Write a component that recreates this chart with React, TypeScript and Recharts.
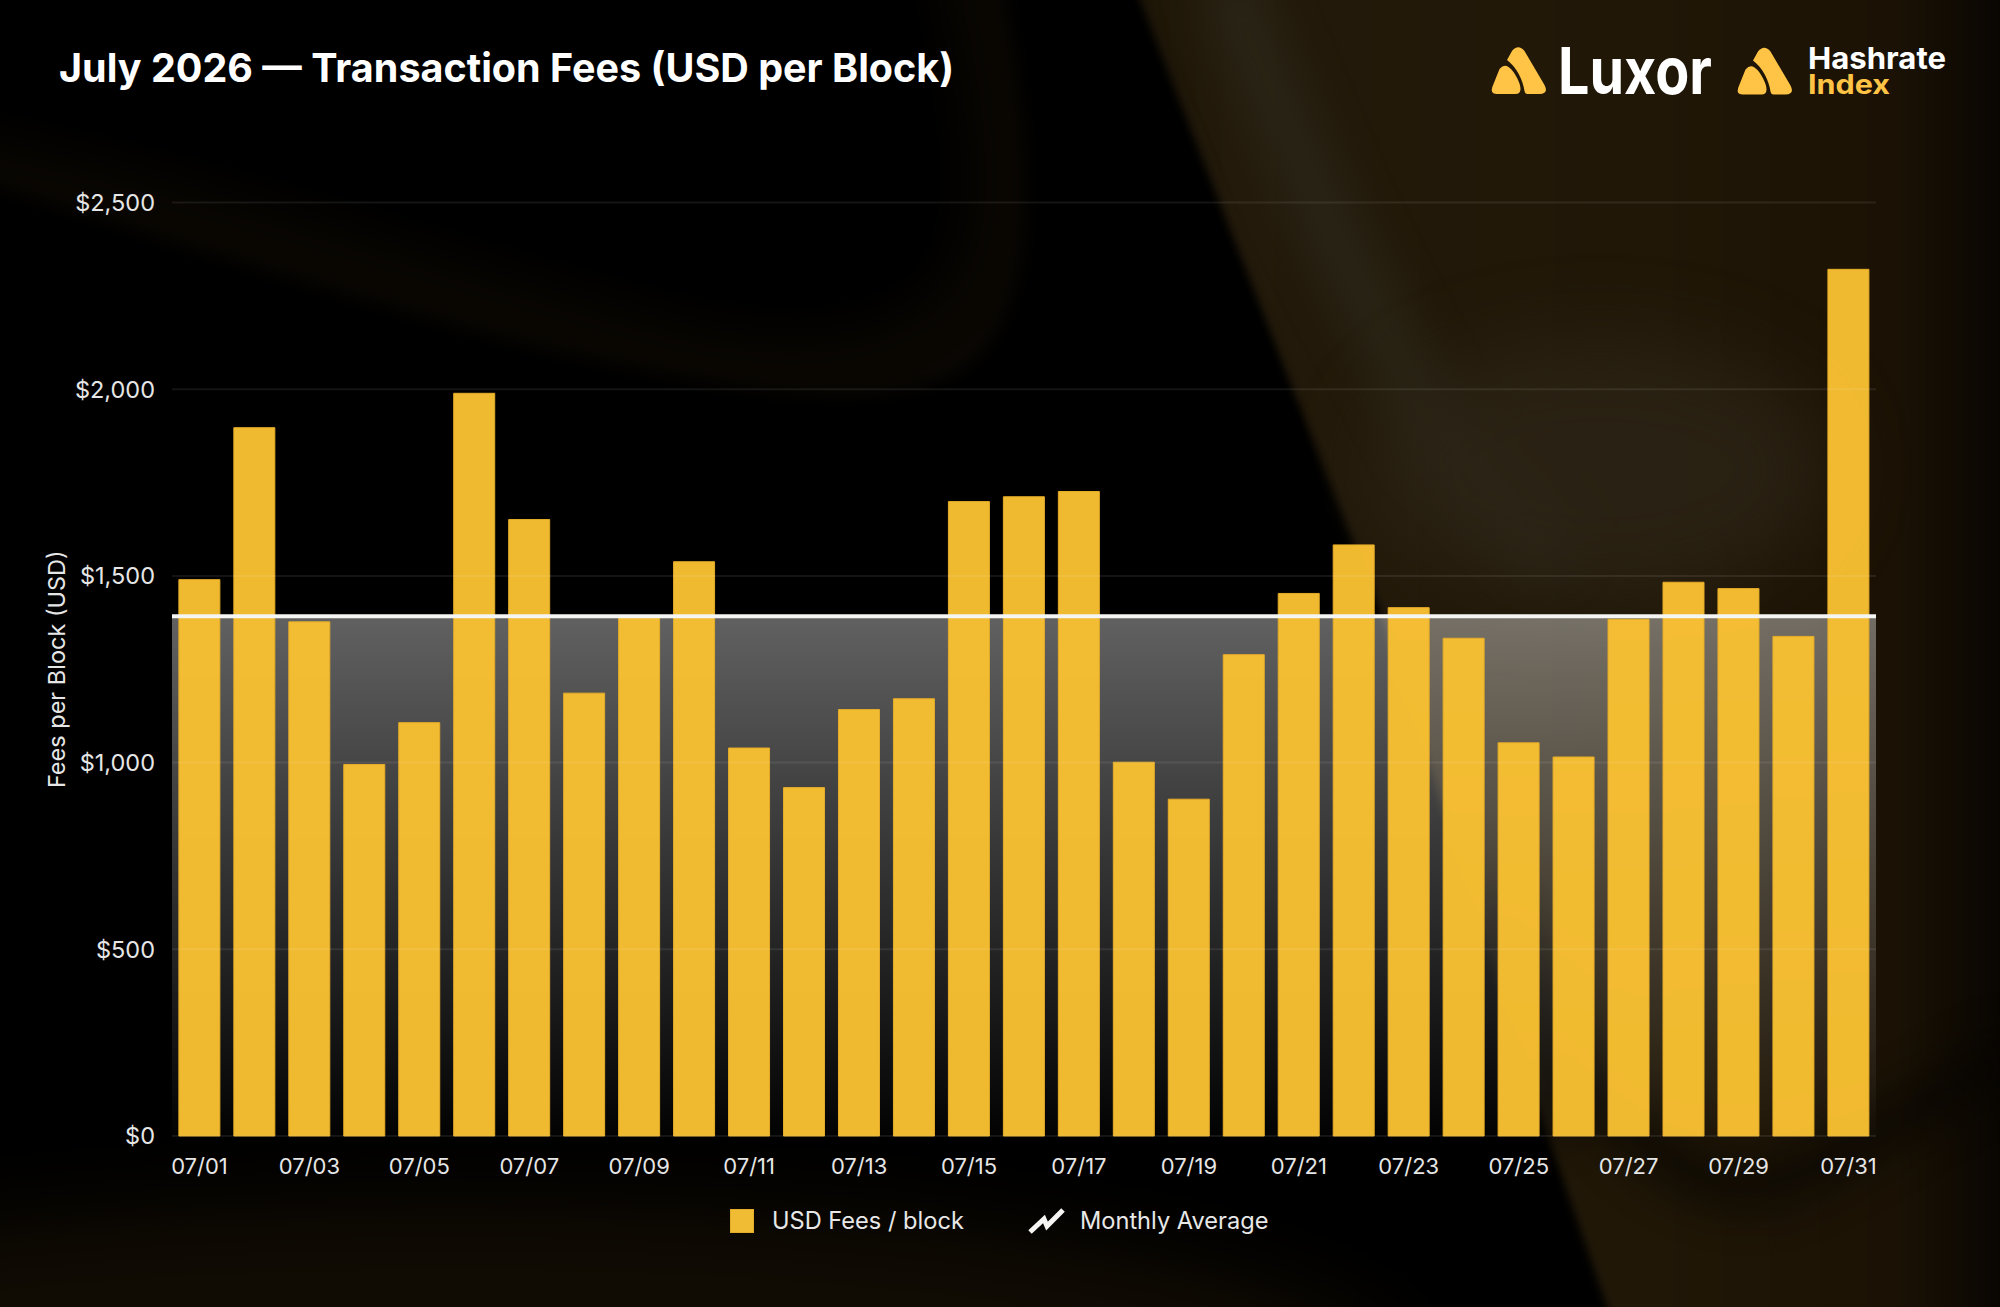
import React from 'react';
import { ComposedChart, Bar, XAxis, YAxis, CartesianGrid, ReferenceLine, ReferenceArea, Legend } from 'recharts';

const days = ['07/01','07/02','07/03','07/04','07/05','07/06','07/07','07/08','07/09','07/10','07/11','07/12','07/13','07/14','07/15','07/16','07/17','07/18','07/19','07/20','07/21','07/22','07/23','07/24','07/25','07/26','07/27','07/28','07/29','07/30','07/31'];
const fees = [1490,1897,1377,995,1107,1989,1651,1186,1388,1538,1039,933,1142,1171,1699,1712,1726,1001,902,1289,1453,1583,1415,1333,1053,1015,1384,1483,1466,1338,2321];
const monthlyAverage = 1392;
const yTicks = [0,500,1000,1500,2000,2500];
const title = 'July 2026 — Transaction Fees (USD per Block)';
const yLabel = 'Fees per Block (USD)';
const barName = 'USD Fees / block';
const lineName = 'Monthly Average';

const data = days.map((day, i) => ({ day, fee: fees[i] }));
const FONT = 'Inter, sans-serif';
const GOLD = '#FFC445';

function Icon({ x, y }: { x: number; y: number }) {
  return (
    <g transform={`translate(${x},${y})`} fill={GOLD}>
      <path d="M20.5 4 Q26.7 -3.5 33 4 L53 38 Q57.5 47 48 47 L36 47 Q33.5 47 33 44 C31.5 33 25 20 15.5 13 Z" />
      <path d="M8 22 Q12.5 16.5 17 20 Q20 22 22 25 C26 31 29 37 29 42 Q29 47 24 47 L5 47 Q-1.5 47 0.8 40 Z" />
    </g>
  );
}

function Blur({ id, s }: { id: string; s: number }) {
  return (
    <filter id={id} x="-40%" y="-40%" width="180%" height="180%" colorInterpolationFilters="sRGB">
      <feGaussianBlur stdDeviation={s} />
    </filter>
  );
}

function Background() {
  return (
    <svg width={2000} height={1307} style={{ position: 'absolute', left: 0, top: 0 }}>
      <defs>
        <Blur id="b4" s={4} />
        <Blur id="b8" s={8} />
        <Blur id="b10" s={10} />
        <Blur id="b24" s={24} />
        <Blur id="b40" s={40} />
        <clipPath id="shapeA"><path d="M-30 178 C200 250 460 333 620 365 C760 395 880 410 956 373 C1030 330 1045 200 1002 -20 L-30 -20 Z" /></clipPath>
        <linearGradient id="warm" x1="1131" y1="0" x2="2000" y2="0" gradientUnits="userSpaceOnUse">
          <stop offset="0" stopColor="#1e1607" />
          <stop offset="0.12" stopColor="#231a0b" />
          <stop offset="0.6" stopColor="#201707" />
          <stop offset="0.88" stopColor="#1b1205" />
          <stop offset="1" stopColor="#090602" />
        </linearGradient>
      </defs>
      <rect width={2000} height={1307} fill="#000" />
      <g filter="url(#b8)">
        <g clipPath="url(#shapeA)">
          <rect x={-40} y={-40} width={1140} height={470} fill="#0a0703" />
          <path d="M-100 120 C200 170 470 270 680 320 C820 350 910 330 950 270 C985 190 960 80 920 -100 L-100 -100 Z" fill="#000" filter="url(#b24)" />
        </g>
      </g>
      <ellipse cx={450} cy={1370} rx={950} ry={170} fill="#100b03" filter="url(#b40)" />
      <path d="M1131 -20 L2020 -20 L2020 1330 L1615 1330 L1547 1133 L1376 600 Z" fill="url(#warm)" filter="url(#b4)" />
      <path d="M1225 -20 L1330 230 L1440 440 L1560 560" fill="none" stroke="#2f2c1f" strokeWidth={50} opacity={0.7} filter="url(#b24)" />
      <ellipse cx={1600} cy={470} rx={230} ry={130} fill="#2c2416" opacity={0.8} filter="url(#b40)" />
      <path d="M1120 -20 L1180 140 L1300 470 L1395 760" fill="none" stroke="#000" strokeWidth={16} opacity={0.55} filter="url(#b10)" />
      <path d="M1500 900 L1570 1040 C1620 1130 1680 1187 1751 1187 C1810 1187 1900 1110 2020 1050" fill="none" stroke="#060401" strokeWidth={36} opacity={0.85} filter="url(#b24)" />
      <path d="M1460 840 L1560 1030 L1590 1110 L1547 1140 L1480 1000 Z" fill="#000" opacity={0.7} filter="url(#b24)" />
    </svg>
  );
}

function ChartLegend() {
  return (
    <svg width={560} height={40} style={{ display: 'block' }}>
      <rect x={0.5} y={8.5} width={23} height={23} fill="#F0BC33" stroke="#E5AC28" />
      <text x={42} y={28} fontFamily={FONT} fontSize={23.6} fill="#E8E8E8">{barName}</text>
      <path d="M300 31 L314 18 L317 25 L333 9" fill="none" stroke="#F5F5F3" strokeWidth={5} />
      <text x={350} y={28} fontFamily={FONT} fontSize={23.6} fill="#E8E8E8">{lineName}</text>
    </svg>
  );
}

export default function App() {
  return (
    <div style={{ position: 'absolute', left: 0, top: 0, width: 2000, height: 1307, overflow: 'hidden', background: '#000' }}>
      <Background />
      <div style={{ position: 'absolute', left: 0, top: 0 }}>
        <ComposedChart width={2000} height={1307} data={data} margin={{ top: 202.5, right: 124, bottom: 71, left: 0 }} barCategoryGap="12.5%">
          <defs>
            <linearGradient id="avgFill" x1="0" y1="0" x2="0" y2="1">
              <stop offset="0" stopColor="#fff" stopOpacity={0.38} />
              <stop offset="1" stopColor="#fff" stopOpacity={0.01} />
            </linearGradient>
          </defs>
          <XAxis dataKey="day" interval={1} height={60} tickLine={false} axisLine={false} tickMargin={16} tick={{ fill: '#E6E6E6', fontFamily: FONT, fontSize: 22 }} />
          <YAxis width={172} domain={[0, 2500]} ticks={yTicks} tickFormatter={(v: number) => '$' + v.toLocaleString('en-US')} tickLine={false} axisLine={false} tickMargin={11} tick={{ fill: '#E6E6E6', fontFamily: FONT, fontSize: 23.5 }}
            label={{ value: yLabel, angle: -90, position: 'insideLeft', offset: 57, fill: '#E6E6E6', fontFamily: FONT, fontSize: 23.5, style: { textAnchor: 'middle' } }} />
          <ReferenceArea y1={0} y2={monthlyAverage} fill="url(#avgFill)" fillOpacity={1} stroke="none" />
          <Bar dataKey="fee" name={barName} fill="#F8C032" fillOpacity={0.97} stroke="#E5AC28" strokeWidth={1} isAnimationActive={false} />
          <CartesianGrid vertical={false} stroke="#fff" strokeOpacity={0.08} strokeWidth={2} zIndex={350} />
          <ReferenceLine y={monthlyAverage} stroke="#F5F5F3" strokeWidth={4} />
          <Legend verticalAlign="bottom" align="left" wrapperStyle={{ left: 730, bottom: 66, width: 560 }} content={() => <ChartLegend />} />
        </ComposedChart>
      </div>
      <svg width={2000} height={140} style={{ position: 'absolute', left: 0, top: 0 }}>
        <text x={59} y={82} fontFamily={FONT} fontWeight={700} fontSize={39.5} fill="#fff">{title}</text>
        <Icon x={1491.5} y={47} />
        <text x={1558} y={94} fontFamily={FONT} fontWeight={700} fontSize={64.6} fill="#fff" textLength={154} lengthAdjust="spacingAndGlyphs">Luxor</text>
        <Icon x={1737.5} y={47.5} />
        <text x={1808} y={69} fontFamily={FONT} fontWeight={700} fontSize={30.3} fill="#fff" textLength={138} lengthAdjust="spacingAndGlyphs">Hashrate</text>
        <text x={1808} y={94} fontFamily={FONT} fontWeight={700} fontSize={26.5} fill={GOLD} textLength={82} lengthAdjust="spacingAndGlyphs">Index</text>
      </svg>
    </div>
  );
}
